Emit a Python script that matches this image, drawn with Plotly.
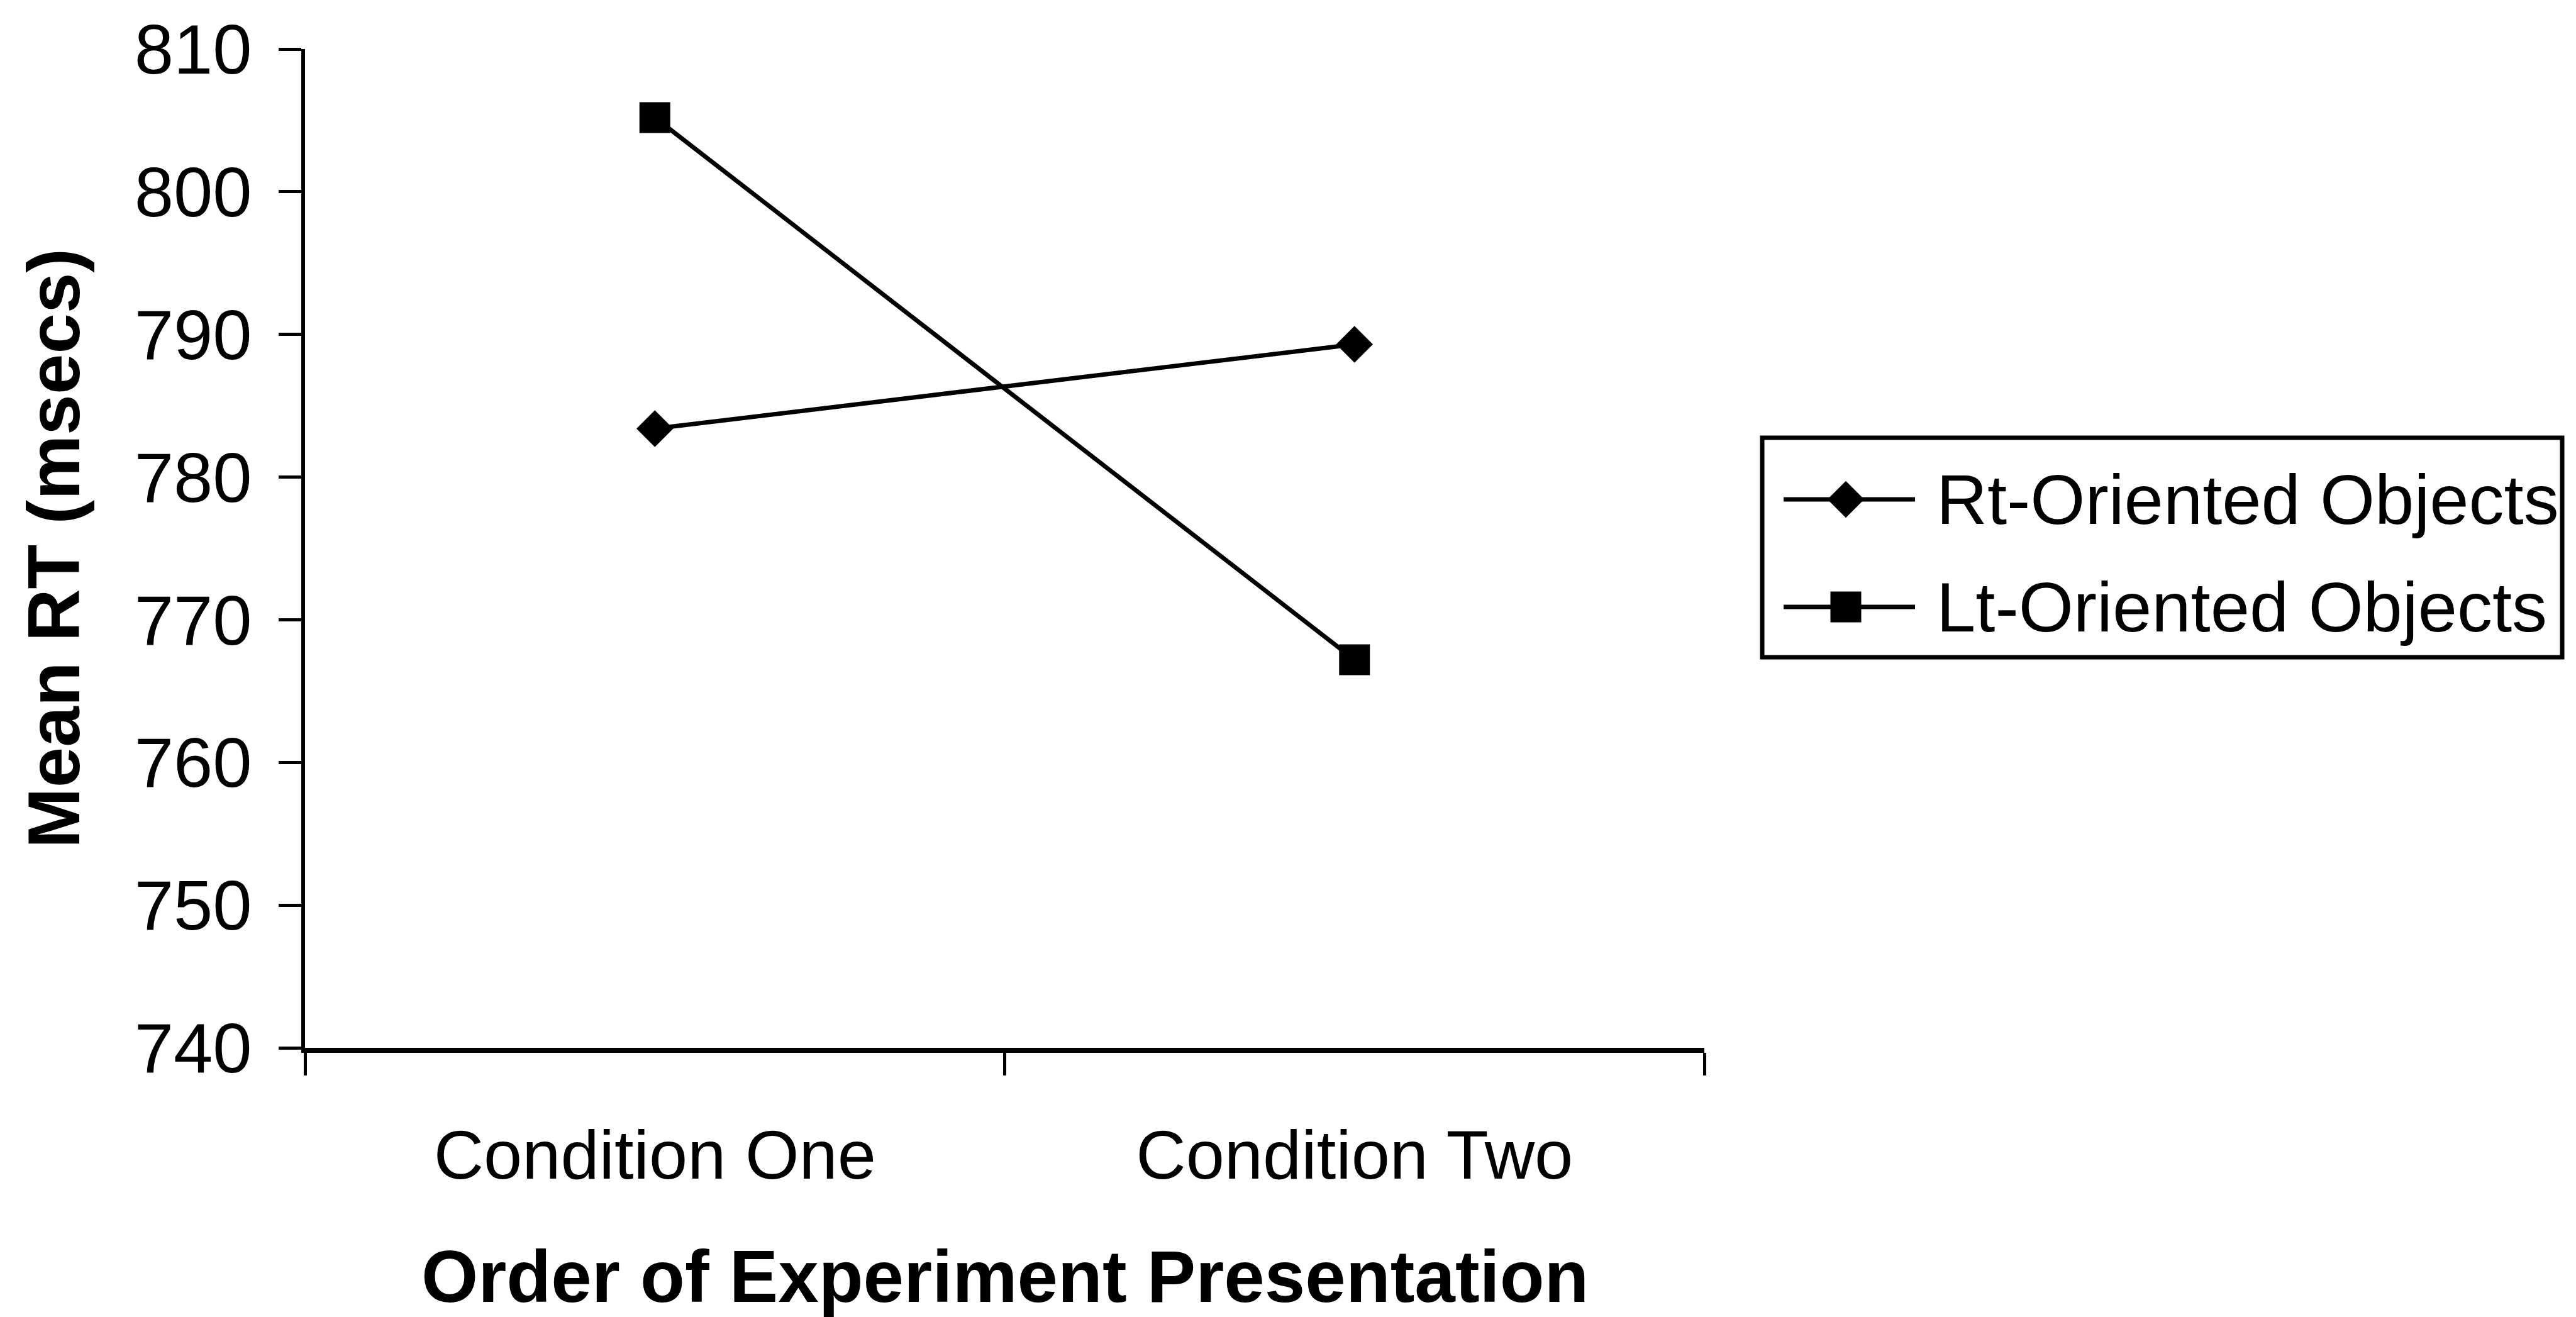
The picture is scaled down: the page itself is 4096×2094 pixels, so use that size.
import plotly.graph_objects as go

# ---- data ----
categories = ["Condition One", "Condition Two"]
series_names = ["Rt-Oriented Objects", "Lt-Oriented Objects"]
rt_values = [783.4, 789.3]
lt_values = [805.2, 767.2]
y_ticks = [740, 750, 760, 770, 780, 790, 800, 810]
x_title = "Order of Experiment Presentation"
y_title = "Mean RT (msecs)"

# ---- layout constants (pixels in a 4096x2094 page) ----
W, H = 4096, 2094
PL, PR, PT, PB = 485, 2710, 78, 1666
FONT = "Liberation Sans, Arial, sans-serif"
symbols = ["diamond", "square"]
sizes = [45, 49]

fig = go.Figure()

for name, vals, sym, sz in zip(series_names, [rt_values, lt_values], symbols, sizes):
    fig.add_trace(go.Scatter(
        x=categories, y=vals, name=name, mode="lines+markers",
        line=dict(color="black", width=7),
        marker=dict(symbol=sym, size=sz, color="black", line=dict(width=0)),
        showlegend=False, cliponaxis=False, xaxis="x", yaxis="y",
    ))

# ---- manual legend (pixel overlay axes) ----
leg_x0, leg_x1, leg_y0, leg_y1 = 2802, 4074, 696, 1045
row_y = [794, 965]
line_x0, line_xm, line_x1 = 2836, 2935, 3045
text_x = 3077
for name, sym, sz, ry in zip(series_names, symbols, sizes, row_y):
    fig.add_trace(go.Scatter(
        x=[line_x0, line_x1], y=[ry, ry], mode="lines",
        line=dict(color="black", width=7), showlegend=False,
        xaxis="x2", yaxis="y2", hoverinfo="skip",
    ))
    fig.add_trace(go.Scatter(
        x=[line_xm], y=[ry], mode="markers",
        marker=dict(symbol=sym, size=sz, color="black", line=dict(width=0)),
        showlegend=False, xaxis="x2", yaxis="y2", hoverinfo="skip",
    ))

annotations = []
for name, ry in zip(series_names, row_y):
    annotations.append(dict(
        x=text_x, y=ry, xref="x2", yref="y2", text=name, showarrow=False,
        xanchor="left", yanchor="middle", font=dict(size=112, color="black", family=FONT),
    ))
annotations.append(dict(
    x=(PL + PR) / 2, y=2030, xref="x2", yref="y2", text="<b>" + x_title + "</b>",
    showarrow=False, xanchor="center", yanchor="middle",
    font=dict(size=116, color="black", family=FONT),
))
annotations.append(dict(
    x=86, y=(PT + PB) / 2, xref="x2", yref="y2", text="<b>" + y_title + "</b>",
    showarrow=False, xanchor="center", yanchor="middle", textangle=-90,
    font=dict(size=116, color="black", family=FONT),
))

fig.update_layout(
    width=W, height=H,
    margin=dict(l=0, r=0, t=0, b=0, pad=0, autoexpand=False),
    paper_bgcolor="white", plot_bgcolor="rgba(0,0,0,0)",
    font=dict(family=FONT, color="black"),
    xaxis=dict(
        domain=[PL / W, PR / W], type="category", range=[-0.5, 1.5],
        showline=True, linecolor="black", linewidth=8,
        ticks="outside", ticklen=36, tickwidth=5, tickcolor="black",
        tickson="boundaries", showgrid=False, zeroline=False,
        tickfont=dict(size=110, color="black", family=FONT),
        ticklabelstandoff=68, anchor="y", automargin=False,
    ),
    yaxis=dict(
        domain=[(H - PB) / H, (H - PT) / H], range=[740, 810],
        tickvals=y_ticks, ticktext=[str(v) for v in y_ticks],
        showline=True, linecolor="black", linewidth=6,
        ticks="outside", ticklen=36, tickwidth=5, tickcolor="black",
        showgrid=False, zeroline=False,
        tickfont=dict(size=112, color="black", family=FONT),
        ticklabelstandoff=20, anchor="x", automargin=False,
    ),
    xaxis2=dict(domain=[0, 1], range=[0, W], visible=False, anchor="y2",
                fixedrange=True, automargin=False),
    yaxis2=dict(domain=[0, 1], range=[H, 0], visible=False, anchor="x2",
                fixedrange=True, automargin=False),
    shapes=[dict(type="rect", xref="x2", yref="y2",
                 x0=leg_x0, x1=leg_x1, y0=leg_y0, y1=leg_y1,
                 line=dict(color="black", width=7), fillcolor="rgba(0,0,0,0)")],
    annotations=annotations,
    showlegend=False,
)

fig.write_html("out.html")
